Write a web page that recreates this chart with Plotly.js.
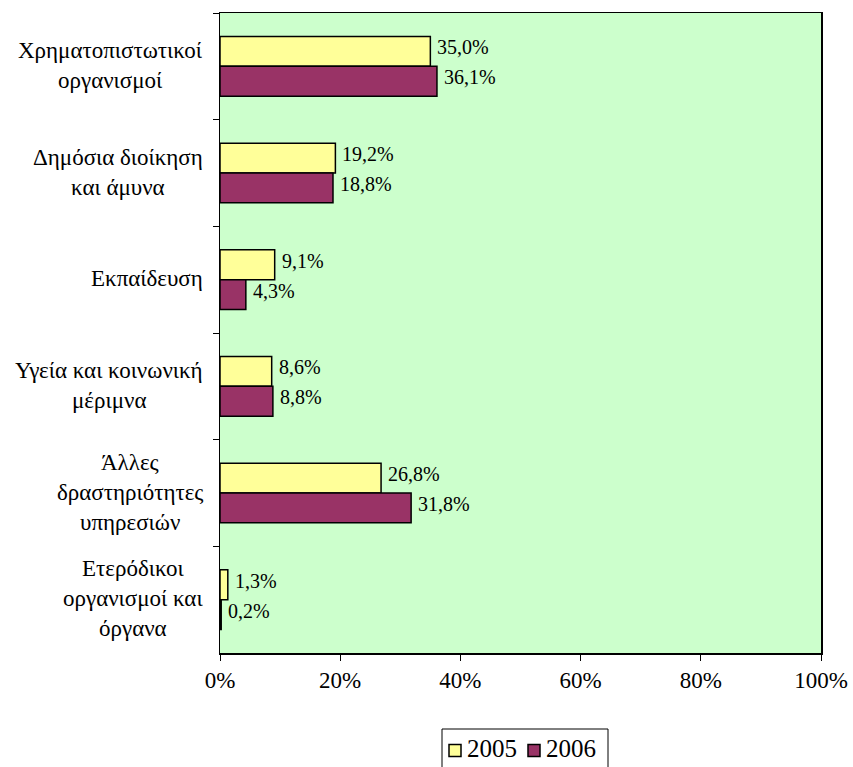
<!DOCTYPE html>
<html>
<head>
<meta charset="utf-8">
<script src="https://cdn.plot.ly/plotly-3.0.1.min.js"></script>
<style>html,body{margin:0;padding:0;background:#fff;}#chart{width:853px;height:767px;}</style>
</head>
<body>
<div id="chart"></div>
<script>
// ---- data ----
const categories = [
  "Χρηματοπιστωτικοί<br>οργανισμοί",
  "Δημόσια διοίκηση<br>και άμυνα",
  "Εκπαίδευση",
  "Υγεία και κοινωνική<br>μέριμνα",
  "Άλλες<br>δραστηριότητες<br>υπηρεσιών",
  "Ετερόδικοι<br>οργανισμοί και<br>όργανα"
];
const seriesNames = ["2005", "2006"];
const values2005 = [35.0, 19.2, 9.1, 8.6, 26.8, 1.3];
const values2006 = [36.1, 18.8, 4.3, 8.8, 31.8, 0.2];
const xTickVals = [0, 20, 40, 60, 80, 100];
const xTickLabels = ["0%", "20%", "40%", "60%", "80%", "100%"];

// ---- layout constants ----
const W = 853, H = 767;
const M = {l: 220, r: 32, t: 13, b: 114};
const PW = W - M.l - M.r, PH = H - M.t - M.b;
const FONT = 'Liberation Serif';
const colors = ['#FFFF99', '#993366'];
const BARGAP = 0.44;
const px = x => (x - M.l) / PW;
const py = y => (H - M.b - y) / PH;

const catFont = 23;
const canvas = document.createElement('canvas');
const ctx = canvas.getContext('2d');
ctx.font = catFont + 'px "Liberation Serif"';

const series = [values2005, values2006];
const traces = series.map((vals, i) => ({
  type: 'bar',
  orientation: 'h',
  name: seriesNames[i],
  y: categories,
  x: vals,
  marker: {color: colors[i], line: {color: '#000', width: 1.5}},
  hoverinfo: 'skip'
}));

const annotations = [];

// data labels (placed in data coordinates at each bar's end)
const barW = (1 - BARGAP) / series.length;
series.forEach((vals, s) => {
  const off = -(1 - BARGAP) / 2 + barW * (s + 0.5);
  vals.forEach((v, k) => {
    annotations.push({
      xref: 'x', yref: 'y', x: v, y: k + off,
      xanchor: 'left', yanchor: 'middle', xshift: 5, yshift: 4,
      text: v.toFixed(1).replace('.', ',') + '%', showarrow: false,
      font: {family: FONT, size: 20, color: '#000'}
    });
  });
});

// category labels, lines centred within a right-aligned block
const labelRight = 203;
categories.forEach((cat, k) => {
  const lines = cat.split('<br>');
  const maxW = Math.max(...lines.map(s => ctx.measureText(s).width));
  const cx = labelRight - maxW / 2;
  lines.forEach((ln, i) => {
    annotations.push({
      xref: 'paper', yref: 'y', x: px(cx), y: k,
      xanchor: 'center', yanchor: 'middle',
      yshift: -((i - (lines.length - 1) / 2) * 30) + 1,
      text: ln, showarrow: false,
      font: {family: FONT, size: catFont, color: '#000'}
    });
  });
});

// custom legend
const legFont = 25;
const shapes = [
  {type: 'rect', xref: 'paper', yref: 'paper', x0: px(442), x1: px(608), y0: py(729), y1: py(769),
   line: {color: '#000', width: 1}, fillcolor: 'rgba(0,0,0,0)'}
];
const legItems = [{sq: 449, tx: 465}, {sq: 528, tx: 544}];
legItems.forEach((it, i) => {
  shapes.push({type: 'rect', xref: 'paper', yref: 'paper',
    x0: px(it.sq), x1: px(it.sq + 12), y0: py(744.5), y1: py(756.5),
    line: {color: '#000', width: 1.5}, fillcolor: colors[i]});
  annotations.push({xref: 'paper', yref: 'paper', x: px(it.tx), y: py(748),
    xanchor: 'left', yanchor: 'middle', text: seriesNames[i], showarrow: false,
    font: {family: FONT, size: legFont, color: '#000'}});
});

const layout = {
  width: W, height: H,
  margin: M,
  paper_bgcolor: '#fff',
  plot_bgcolor: '#CCFFCC',
  showlegend: false,
  barmode: 'group',
  bargap: BARGAP,
  bargroupgap: 0,
  font: {family: FONT, color: '#000'},
  xaxis: {
    range: [0, 100], tickmode: 'array', tickvals: xTickVals, ticktext: xTickLabels,
    showgrid: false, zeroline: false,
    showline: true, mirror: true, linecolor: '#000', linewidth: 1.5,
    ticks: 'outside', ticklen: 6, tickcolor: '#000', tickwidth: 1,
    tickfont: {family: FONT, size: 23, color: '#000'}
  },
  yaxis: {
    type: 'category', autorange: 'reversed',
    showticklabels: false, showgrid: false, zeroline: false,
    showline: true, mirror: true, linecolor: '#000', linewidth: 1.5,
    ticks: 'outside', tickson: 'boundaries', ticklen: 6, tickcolor: '#000', tickwidth: 1
  },
  annotations: annotations,
  shapes: shapes
};

Plotly.newPlot('chart', traces, layout, {staticPlot: true, displayModeBar: false});
</script>
</body>
</html>
